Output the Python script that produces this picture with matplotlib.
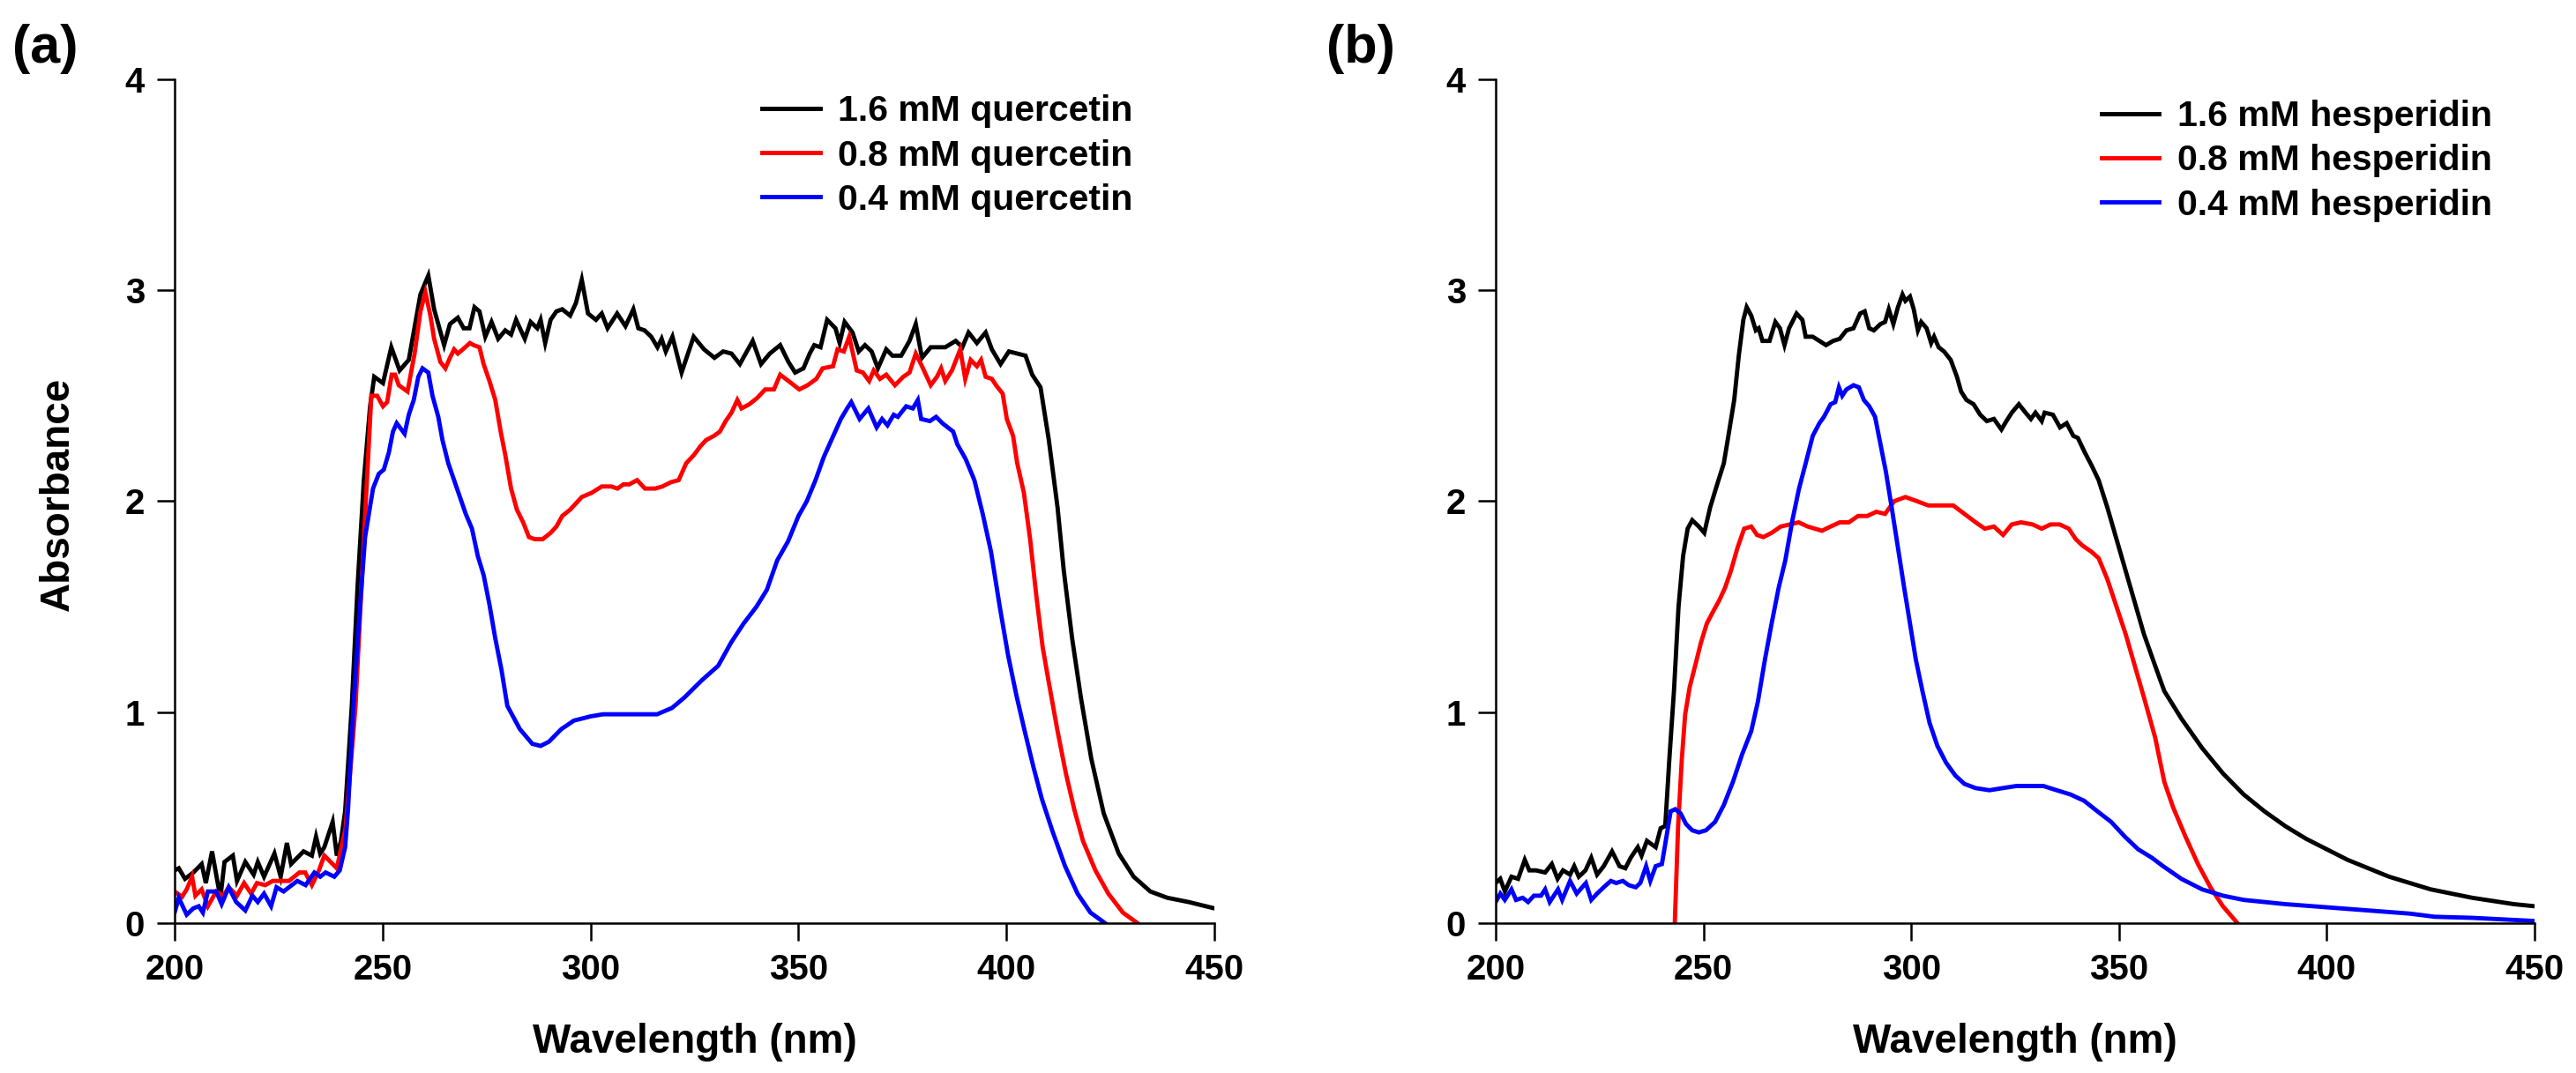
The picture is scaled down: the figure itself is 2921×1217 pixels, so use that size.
import matplotlib
matplotlib.use('Agg')
import matplotlib.pyplot as plt

plt.rcParams['font.family'] = ['Liberation Sans', 'DejaVu Sans']
plt.rcParams['font.weight'] = 'bold'

# ---------------- data ----------------
x_ticks = [200, 250, 300, 350, 400, 450]
y_ticks = [0, 1, 2, 3, 4]

labels_a = ['1.6 mM quercetin', '0.8 mM quercetin', '0.4 mM quercetin']
labels_b = ['1.6 mM hesperidin', '0.8 mM hesperidin', '0.4 mM hesperidin']
colors = ['#000000', '#ff0000', '#0000ff']

a_black_wl = [200, 201, 202.5, 204.5, 206.5, 207.5, 209, 211, 212, 214, 215, 217, 219, 220, 221.5, 224, 225.5, 227, 228, 231,
              233, 234, 235, 236, 238, 239, 240, 241, 242.6, 244, 245.5, 247, 248, 250.1, 252.1, 254.1, 256.3, 259.1, 261.0, 262.4,
              264.8, 266.2, 268.1, 269.5, 270.9, 272.1, 273.3, 274.7, 276.2, 277.8, 279.5, 280.9, 282.1, 284.2, 285.6, 287.2, 288.0,
              289.1, 290.4, 291.8, 293.2, 295.1, 296.5, 297.9, 299.4, 301.3, 302.7, 304.1, 306.4, 308.4, 310.3, 311.5, 313.0, 314.6,
              316.1, 317.1, 318.1, 319.7, 321.9, 324.8, 327.3, 329.8, 331.9, 333.9, 335.9, 339.0, 341.0, 343.1, 345.6, 347.6, 349.2,
              351.2, 352.7, 353.8, 355.3, 356.9, 358.9, 359.9, 361.1, 363.0, 364.5, 366.0, 367.6, 369.1, 371.1, 372.6, 374.7, 376.7,
              378.2, 379.7, 381.8, 385.3, 387.8, 389.4, 390.9, 392.9, 395.0, 396.5, 398.6, 400.6, 402.6, 404.6, 406.2, 408.2, 410.2,
              412.3, 413.8, 415.8, 417.9, 420.4, 423.4, 427.0, 430.6, 434.6, 438.7, 443.8, 450]
a_black_abs = [0.25, 0.26, 0.21, 0.24, 0.28, 0.19, 0.34, 0.12, 0.29, 0.32, 0.20, 0.29, 0.23, 0.29, 0.22, 0.33, 0.22, 0.38, 0.28, 0.34,
               0.32, 0.41, 0.33, 0.36, 0.48, 0.32, 0.39, 0.53, 1.03, 1.60, 2.10, 2.45, 2.59, 2.56, 2.73, 2.62, 2.67, 2.98, 3.07, 2.91,
               2.74, 2.84, 2.87, 2.82, 2.82, 2.92, 2.90, 2.78, 2.85, 2.77, 2.81, 2.79, 2.86, 2.77, 2.85, 2.82, 2.86,
               2.75, 2.86, 2.90, 2.91, 2.88, 2.94, 3.05, 2.89, 2.86, 2.89, 2.82, 2.89, 2.83, 2.91, 2.82, 2.81, 2.78,
               2.73, 2.77, 2.71, 2.78, 2.61, 2.78, 2.72, 2.68, 2.71, 2.70, 2.65, 2.76, 2.65, 2.70, 2.74, 2.66, 2.61,
               2.63, 2.70, 2.74, 2.73, 2.86, 2.82, 2.75, 2.85, 2.80, 2.71, 2.74, 2.71, 2.63, 2.72, 2.69, 2.69, 2.76,
               2.84, 2.68, 2.73, 2.73, 2.76, 2.73, 2.80, 2.75, 2.80, 2.72, 2.65, 2.71, 2.70, 2.69, 2.60, 2.54, 2.29,
               1.97, 1.67, 1.35, 1.07, 0.78, 0.52, 0.33, 0.22, 0.15, 0.12, 0.10, 0.07]

a_red_wl = [200, 201.8, 202.9, 204.2, 205, 206.5, 208, 210, 211.7, 213, 215, 216.7, 218.4, 219.8, 221.8, 223.6, 225.6, 227.5, 230,
            231.4, 233, 234.7, 236, 237.5, 239, 241.1, 243.5, 245.4, 247.3, 248.7, 250.1, 251.1, 252.2, 253.0, 253.9, 256.0, 257.7,
            259.1, 260.3, 261.5, 262.4, 263.9, 265.1, 266.2, 267.2, 268.1, 269.3, 271.0, 271.9, 273.3, 274.3, 275.7, 277.1, 278.4,
            279.5, 280.9, 282.3, 283.8, 285.2, 286.6, 288.5, 290.4, 291.8, 293.2, 295.1, 296.5, 297.9, 300.3, 302.7, 305.0, 306.5,
            307.9, 309.3, 311.2, 313.1, 315.5, 317.3, 319.3, 321.2, 323.0, 324.9, 326.4, 327.8, 329.7, 331.1, 332.5, 333.9, 335.3,
            336.3, 338.2, 340.1, 342.0, 344.1, 345.6, 347.6, 350.2, 352.2, 354.3, 355.8, 358.3, 359.4, 360.9, 362.2, 364.0, 365.5,
            367.0, 368.1, 369.6, 371.1, 373.2, 375.2, 376.7, 378.2, 379.7, 381.8, 383.3, 384.3, 385.3, 386.9, 388.9, 390.1, 391.4,
            392.9, 393.9, 395.0, 396.5, 397.5, 399.1, 400.1, 401.6, 402.6, 404.2, 405.7, 407.2, 408.7, 410.2, 412.3, 414.3, 416.3,
            418.4, 421.4, 424.5, 428.0, 431.5]
a_red_abs = [0.15, 0.125, 0.16, 0.22, 0.13, 0.16, 0.08, 0.15, 0.13, 0.17, 0.13, 0.19, 0.14, 0.19, 0.18, 0.20, 0.20, 0.20, 0.24,
             0.24, 0.18, 0.25, 0.32, 0.29, 0.26, 0.45, 1.03, 1.78, 2.50, 2.50, 2.45, 2.47, 2.60, 2.60, 2.55, 2.52, 2.70,
             2.90, 2.99, 2.88, 2.77, 2.66, 2.63, 2.68, 2.72, 2.70, 2.72, 2.75, 2.74, 2.73, 2.65, 2.57, 2.48, 2.33,
             2.22, 2.06, 1.96, 1.90, 1.83, 1.82, 1.82, 1.85, 1.88, 1.93, 1.96, 1.99, 2.02, 2.04, 2.07, 2.07, 2.06,
             2.08, 2.08, 2.10, 2.06, 2.06, 2.07, 2.09, 2.10, 2.18, 2.22, 2.26, 2.29, 2.31, 2.33, 2.38, 2.42, 2.48,
             2.44, 2.46, 2.49, 2.53, 2.53, 2.60, 2.57, 2.53, 2.55, 2.58, 2.63, 2.64, 2.72, 2.71, 2.78, 2.62, 2.61,
             2.57, 2.62, 2.58, 2.60, 2.55, 2.59, 2.61, 2.70, 2.64, 2.55, 2.59, 2.63, 2.57, 2.62, 2.72, 2.58, 2.67,
             2.64, 2.67, 2.59, 2.58, 2.55, 2.51, 2.39, 2.31, 2.18, 2.04, 1.82, 1.55, 1.31, 1.14, 0.91, 0.71, 0.54,
             0.39, 0.25, 0.14, 0.05, 0.0]

a_blue_wl = [200, 201, 202.9, 204.5, 205.8, 206.8, 208, 210, 211.3, 213, 214.8, 217, 218.7, 220, 221.5, 223.2, 224.5, 226.2,
             227.5, 229.5, 231.5, 233.6, 235, 236.3, 238.4, 239.7, 241, 241.7, 243.0, 244.4, 245.8, 247.7, 249.1, 250.3, 251.5,
             252.5, 253.4, 255.3, 256.3, 257.5, 258.6, 259.6, 261.0, 262.0, 263.4, 264.4, 265.8, 267.2, 268.6, 270.0, 271.5,
             272.9, 274.3, 275.7, 277.1, 278.6, 280.0, 283, 286, 288, 290, 293, 296, 300, 303, 306.4, 316.0, 319.6, 322.6, 326.7,
             330.7, 333.8, 336.8, 339.9, 342.4, 344.9, 347.5, 350.0, 352.0, 354.1, 356.1, 358.6, 360.2, 361.7, 362.7, 364.7,
             366.8, 368.8, 370.1, 371.4, 372.9, 373.9, 375.9, 377.5, 378.7, 379.5, 381.6, 383.1, 384.6, 387.2, 388.2, 390.2,
             392.3, 394.3, 396.3, 398.4, 400.4, 402.4, 404.4, 406.5, 408.5, 411.0, 414.1, 417.1, 420.2, 423.7]
a_blue_abs = [0.05, 0.12, 0.04, 0.07, 0.08, 0.05, 0.15, 0.15, 0.09, 0.17, 0.10, 0.06, 0.13, 0.10, 0.14, 0.08, 0.17, 0.15,
              0.17, 0.20, 0.18, 0.24, 0.22, 0.24, 0.22, 0.25, 0.36, 0.54, 1.03, 1.45, 1.83, 2.06, 2.13, 2.15, 2.23,
              2.33, 2.37, 2.32, 2.41, 2.48, 2.59, 2.63, 2.61, 2.50, 2.40, 2.29, 2.18, 2.10, 2.02, 1.94, 1.87,
              1.74, 1.65, 1.51, 1.35, 1.20, 1.03, 0.92, 0.85, 0.84, 0.86, 0.92, 0.96, 0.98, 0.99, 0.99, 0.99, 1.02, 1.07, 1.15,
              1.22, 1.33, 1.42, 1.50, 1.58, 1.72, 1.81, 1.93, 2.00, 2.10, 2.21, 2.32, 2.39, 2.44, 2.47, 2.39,
              2.44, 2.35, 2.39, 2.36, 2.41, 2.40, 2.45, 2.44, 2.48, 2.39, 2.38, 2.40, 2.37, 2.33, 2.27, 2.20,
              2.10, 1.94, 1.76, 1.50, 1.27, 1.08, 0.91, 0.74, 0.59, 0.44, 0.27, 0.14, 0.05, 0.0]

b_black_wl = [200, 201.1, 202.2, 203.8, 205.4, 207.0, 208.1, 209.7, 211.9, 213.5, 214.9, 216.2, 217.9, 218.9, 220.0, 221.6, 223.0,
              224.4, 226.0, 228.0, 229.8, 231.2, 232.5, 234.2, 235.1, 236.4, 238.5, 239.7, 240.8, 241.8, 242.9, 244.0, 245.1,
              246.2, 247.3, 248.9, 250.2, 251.6, 253.3, 254.9, 256.0, 257.4, 258.5, 259.6, 260.4, 261.5, 262.6, 263.3, 264.2,
              265.9, 267.3, 268.4, 269.5, 270.6, 272.4, 273.8, 274.6, 276.3, 277.9, 279.5, 281.2, 282.8, 284.4, 286.1, 287.7,
              288.8, 289.9, 291.0, 292.6, 293.7, 294.6, 295.7, 296.8, 297.9, 298.6, 299.7, 300.6, 301.6, 302.4, 303.7, 304.8,
              305.5, 306.6, 307.9, 309.5, 311.0, 312.0, 313.3, 315.0, 316.6, 318.2, 319.9, 321.7, 322.9, 324.2, 325.9, 327.5,
              328.8, 329.9, 331.4, 332.1, 334.1, 335.8, 337.4, 339.0, 340.1, 341.8, 343.4, 345.1, 347.2, 349.4, 351.6, 353.8,
              356.0, 358.7, 360.9, 365, 370, 375, 380, 385, 390, 395, 400, 405, 410, 415, 420, 425, 430, 435, 440, 445, 450]
b_black_abs = [0.19, 0.21, 0.15, 0.22, 0.21, 0.30, 0.25, 0.25, 0.24, 0.28, 0.21, 0.25, 0.23, 0.27, 0.22, 0.25, 0.31,
               0.23, 0.27, 0.34, 0.27, 0.26, 0.31, 0.36, 0.32, 0.39, 0.36, 0.45, 0.46, 0.78, 1.10, 1.50, 1.74,
               1.87, 1.91, 1.88, 1.85, 1.97, 2.08, 2.18, 2.31, 2.48, 2.69, 2.86, 2.92, 2.88, 2.81, 2.82, 2.76,
               2.76, 2.85, 2.82, 2.74, 2.82, 2.89, 2.86, 2.78, 2.78, 2.76, 2.74, 2.76, 2.77, 2.81, 2.82, 2.89,
               2.90, 2.82, 2.81, 2.84, 2.85, 2.91, 2.84, 2.92, 2.98, 2.95, 2.97, 2.91, 2.81, 2.85, 2.82, 2.75,
               2.78, 2.73, 2.71, 2.67, 2.59, 2.52, 2.48, 2.46, 2.41, 2.38, 2.39, 2.34, 2.38, 2.42, 2.46, 2.42,
               2.39, 2.42, 2.38, 2.42, 2.41, 2.35, 2.37, 2.31, 2.30, 2.23, 2.17, 2.10, 1.97, 1.82, 1.67, 1.52,
               1.37, 1.22, 1.10, 0.97, 0.83, 0.71, 0.61, 0.53, 0.46, 0.40, 0.35, 0.30, 0.26, 0.22, 0.19, 0.16, 0.14, 0.12,
               0.105, 0.09, 0.08]

b_red_wl = [243.1, 243.9, 244.8, 245.6, 246.7, 248.0, 249.4, 250.8, 252.4, 253.8, 255.2, 256.6, 258.2, 259.8, 261.5, 262.9,
            264.4, 266.4, 268.6, 270.8, 272.9, 275.1, 278.5, 280.6, 282.8, 285.0, 287.2, 289.4, 291.6, 293.7, 295.9, 298.6,
            301.4, 304.1, 306.8, 310.1, 312.8, 315.5, 317.7, 319.9, 322.1, 324.2, 326.4, 329.2, 331.4, 333.5, 335.7, 337.9,
            339.6, 341.2, 343.4, 345.1, 347.2, 349.4, 351.6, 353.8, 356.0, 358.7, 360.9, 363, 366, 369, 372, 375, 378.5]
b_red_abs = [0.0, 0.46, 0.78, 0.99, 1.12, 1.22, 1.33, 1.42, 1.48, 1.53, 1.59, 1.67, 1.78, 1.87, 1.88, 1.84,
             1.83, 1.85, 1.88, 1.89, 1.90, 1.88, 1.86, 1.88, 1.90, 1.90, 1.93, 1.93, 1.95, 1.94, 2.00, 2.02,
             2.00, 1.98, 1.98, 1.98, 1.94, 1.90, 1.87, 1.88, 1.84, 1.89, 1.90, 1.89, 1.87, 1.89, 1.89, 1.87,
             1.82, 1.79, 1.76, 1.73, 1.63, 1.50, 1.37, 1.22, 1.07, 0.88, 0.67, 0.55, 0.41, 0.28, 0.17, 0.08, 0.0]

b_blue_wl = [200, 201.1, 202.2, 203.8, 204.9, 206.5, 207.8, 209.2, 210.9, 211.9, 213.0, 215.0, 216.0, 217.9, 219.5, 221.7,
             223.0, 224.4, 226.0, 227.7, 229.0, 230.6, 232.0, 233.7, 234.8, 236.2, 237.2, 238.5, 240.0, 241.1, 242.1, 243.2,
             244.5, 245.8, 247.3, 248.9, 250.6, 252.8, 254.9, 257.1, 259.3, 261.5, 263.1, 264.8, 266.4, 268.1, 269.7, 271.4,
             273.0, 274.6, 276.3, 277.9, 279.0, 280.6, 281.7, 282.6, 283.4, 284.4, 286.1, 287.4, 288.6, 289.9, 291.3, 292.6,
             293.9, 295.3, 296.8, 298.3, 299.7, 301.1, 302.7, 304.4, 306.3, 308.4, 310.6, 312.8, 315.5, 318.8, 322.0, 325.3,
             328.5, 331.8, 335.0, 338.3, 341.6, 344.8, 348.1, 351.4, 354.6, 357.9, 360.6, 365, 370, 375, 380, 390, 400, 410,
             420, 426, 435, 440, 450]
b_blue_abs = [0.10, 0.14, 0.11, 0.16, 0.11, 0.12, 0.10, 0.13, 0.13, 0.16, 0.10, 0.16, 0.11, 0.20, 0.14, 0.19,
              0.11, 0.14, 0.17, 0.20, 0.19, 0.20, 0.18, 0.17, 0.19, 0.27, 0.20, 0.27, 0.28, 0.41, 0.53, 0.54,
              0.52, 0.47, 0.44, 0.43, 0.44, 0.48, 0.56, 0.67, 0.80, 0.91, 1.05, 1.25, 1.42, 1.59, 1.72, 1.91,
              2.06, 2.18, 2.31, 2.37, 2.40, 2.46, 2.47, 2.54, 2.50, 2.53, 2.55, 2.54, 2.48, 2.45, 2.40, 2.27,
              2.14, 1.97, 1.78, 1.59, 1.42, 1.25, 1.10, 0.95, 0.84, 0.76, 0.70, 0.66, 0.64, 0.63, 0.64, 0.65,
              0.65, 0.65, 0.63, 0.61, 0.58, 0.53, 0.48, 0.41, 0.35, 0.31, 0.27, 0.21, 0.16, 0.13, 0.11, 0.09, 0.075, 0.06,
              0.045, 0.03, 0.025, 0.02, 0.01]

# ---------------- figure ----------------
W, H = 2921, 1217
fig = plt.figure(figsize=(W / 100, H / 100), dpi=100)


def add_ax(l, r, t, b):
    return fig.add_axes([l / W, 1 - b / H, (r - l) / W, (b - t) / H])


axA = add_ax(198, 1377, 90, 1047)
axB = add_ax(1696, 2874, 90, 1047)


def style(ax):
    ax.set_xlim(200, 450)
    ax.set_ylim(0, 4)
    ax.set_xticks(x_ticks)
    ax.set_yticks(y_ticks)
    for s in ['top', 'right']:
        ax.spines[s].set_visible(False)
    for s in ['left', 'bottom']:
        ax.spines[s].set_linewidth(1.8)
    ax.tick_params(direction='out', length=14.5, width=1.8, labelsize=29, pad=10)
    for lab in ax.get_xticklabels() + ax.get_yticklabels():
        lab.set_fontweight('bold')
    ax.set_xlabel('Wavelength (nm)', fontsize=33, fontweight='bold')
    ax.xaxis.set_label_coords(0.5, -0.118)


series_a = [(a_black_wl, a_black_abs), (a_red_wl, a_red_abs), (a_blue_wl, a_blue_abs)]
series_b = [(b_black_wl, b_black_abs), (b_red_wl, b_red_abs), (b_blue_wl, b_blue_abs)]

LW = 3.5
for (wl, ab), lab, c in zip(series_a, labels_a, colors):
    axA.plot(wl, ab, color=c, lw=LW, label=lab, solid_joinstyle='miter')
for (wl, ab), lab, c in zip(series_b, labels_b, colors):
    axB.plot(wl, ab, color=c, lw=LW, label=lab, solid_joinstyle='miter')

style(axA)
style(axB)
axA.set_ylabel('Absorbance', fontsize=33, fontweight='bold')
axA.yaxis.set_label_coords(-0.093, 0.509)

leg_kw = dict(loc='upper left', frameon=False, fontsize=29.5, handlelength=1.6, handletextpad=0.5,
              labelspacing=0.3, borderpad=0, borderaxespad=0)
axA.legend(bbox_to_anchor=(0.565, 0.982), **leg_kw)
axB.legend(bbox_to_anchor=(0.583, 0.976), **leg_kw)

fig.text(14 / W, 1 - 55 / H, '(a)', fontsize=44, fontweight='bold', ha='left', va='center')
fig.text(1504 / W, 1 - 55 / H, '(b)', fontsize=44, fontweight='bold', ha='left', va='center')

fig.savefig('out.png', dpi=100)
